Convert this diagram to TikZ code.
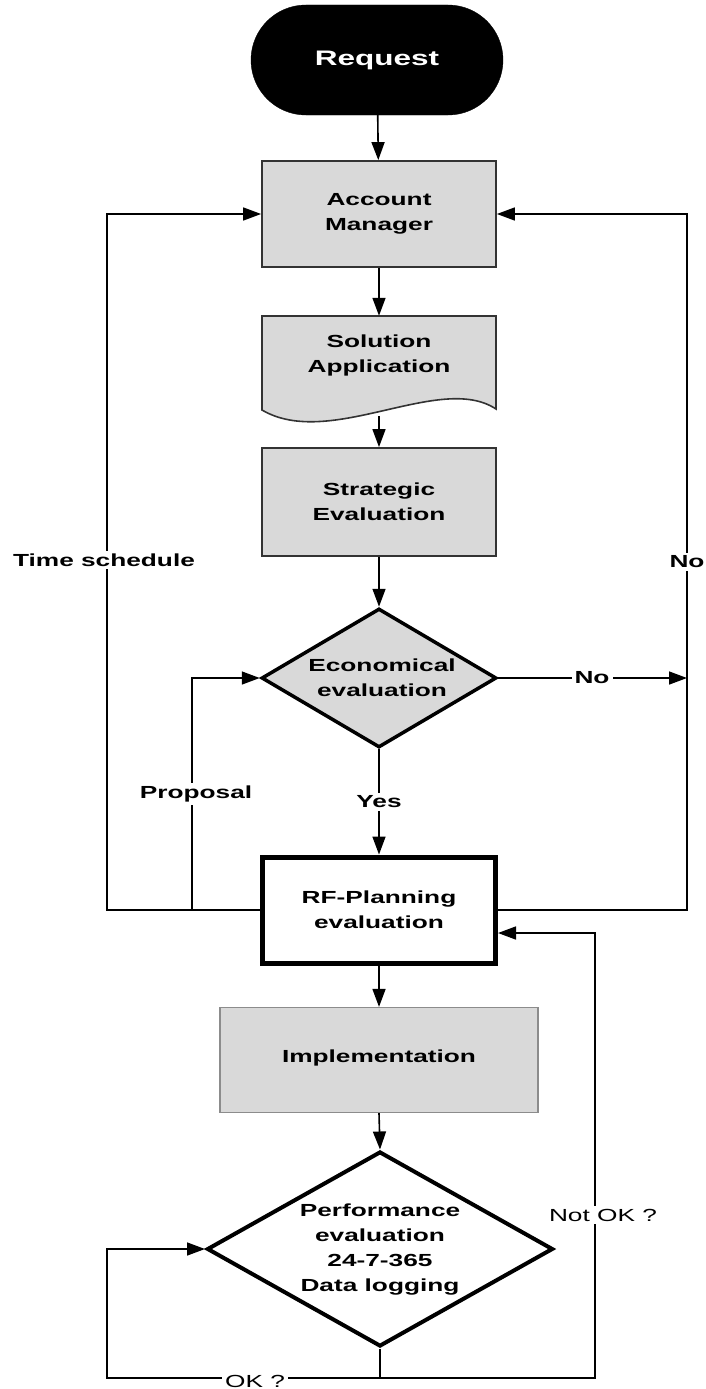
\documentclass[tikz,border=0pt]{standalone}
\usepackage{fontspec}
\setmainfont{Liberation Sans}[FakeStretch=1.5]
\usetikzlibrary{arrows.meta,shapes.geometric,shapes.misc}

\definecolor{boxgray}{HTML}{D9D9D9}
\definecolor{edgegray}{HTML}{333333}
\definecolor{lightedge}{HTML}{8C8C8C}

\begin{document}
\begin{tikzpicture}[x=1pt,y=-1pt,
  txt/.style={font=\fontsize{17.5}{25}\selectfont\bfseries, align=center, inner sep=1pt},
  cut/.style={txt, fill=white, inner sep=3pt},
  plaincut/.style={cut, font=\fontsize{17.5}{25}\selectfont},
  procbox/.style={rectangle, draw=edgegray, fill=boxgray, line width=1.8pt,
    minimum width=234pt, minimum height=106pt, inner sep=0pt},
  conn/.style={line width=1.6pt, draw=black,
    -{Triangle[length=18pt,width=13pt]}},
  wire/.style={line width=1.6pt, draw=black}
]
\useasboundingbox (0,0) rectangle (705,1389);

% start terminal
\node[rounded rectangle, fill=black, draw=black, minimum width=252pt,
  minimum height=110pt, inner sep=0pt, text=white,
  font=\fontsize{21}{25}\selectfont\bfseries] (req) at (377,60) {Request};

\node[procbox] (am) at (379,214) {};
\node[txt] (amtxt) at (379,214) {Account\\Manager};

% document symbol with wavy lower edge
\draw[draw=edgegray, fill=boxgray, line width=1.6pt]
  (262,316) -- (496,316) -- (496,409)
  .. controls (440,372) and (330,450) .. (262,410) -- cycle;
\node[txt, minimum width=234pt, minimum height=94pt] (sol) at (379,363) {};
\node[txt] (soltxt) at (379,355) {Solution\\Application};
\coordinate (solbot) at (379,416);

\node[procbox, minimum height=108pt] (se) at (379,502) {};
\node[txt] (setxt) at (379,502) {Strategic\\Evaluation};

% economical decision
\node[diamond, draw=black, fill=boxgray, line width=3.5pt, inner sep=0pt,
  minimum width=235pt, minimum height=139pt] (ee) at (379,678) {};
\node[txt] (eetxt) at (382,678) {Economical\\evaluation};

\node[rectangle, draw=black, fill=white, line width=5pt, inner sep=0pt,
  minimum width=233pt, minimum height=106pt] (rf) at (379,910) {};
\node[txt] (rftxt) at (379,910) {RF-Planning\\evaluation};

\node[rectangle, draw=lightedge, fill=boxgray, line width=1.2pt, inner sep=0pt,
  minimum width=318pt, minimum height=105pt] (impl) at (379,1060) {};
\node[txt] (impltxt) at (379,1058) {Implementation};

% performance decision
\node[diamond, draw=black, fill=white, line width=4pt, inner sep=0pt,
  minimum width=346pt, minimum height=195pt] (pe) at (380,1249) {};
\node[txt] (petxt) at (380,1249) {Performance\\evaluation\\24-7-365\\Data logging};

% main flow
\draw[conn] (req) -- (am);
\draw[conn] (am) -- (sol.north);
\draw[conn] (solbot) -- (se);
\draw[conn] (se) -- (ee);
\draw[conn] (ee) -- (rf);
\draw[conn] (rf) -- (impl);
\draw[conn] (impl.south) -- (pe.north);

% feedback loops
\coordinate (tsl) at (107,910);
\coordinate (prop) at (192,910);
\coordinate (nor) at (687,910);
\coordinate (pbot) at (380,1378);
\coordinate (okl) at (107,1378);
\coordinate (nokr) at (595,1378);

\draw[conn] (rf.west) -- (tsl) |- (am.west);
\draw[conn] (prop) |- (ee.west);
\draw[conn] (rf.east) -- (nor) |- (am.east);
\draw[conn] (ee.east) -- (nor |- ee.east);
\draw[wire] (pe.south) -- (pbot);
\draw[conn] (pbot) -- (okl) |- (pe.west);
\draw[conn] (pbot) -- (nokr) |- ([yshift=-23pt]rf.east);

% connector labels
\node[cut] (lts) at (104,560) {Time schedule};
\node[cut] (lprop) at (196,794) {Proposal};
\node[cut] (lyes) at (379,802) {Yes};
\node[cut] (lno1) at (592,678) {No};
\node[cut] (lno2) at (687,562) {No};
\node[plaincut] (lnok) at (603,1215) {Not OK ?};
\node[plaincut] (lok) at (255,1381) {OK ?};
\end{tikzpicture}
\end{document}
